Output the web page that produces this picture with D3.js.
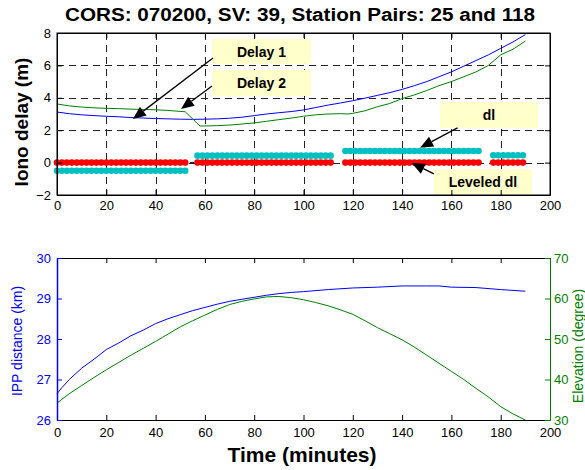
<!DOCTYPE html>
<html>
<head>
<meta charset="utf-8">
<script src="https://cdn.jsdelivr.net/npm/d3@7"></script>
<style>
  body { margin: 0; background: #fff; }
  text { font-family: "Liberation Sans", Arial, Helvetica, sans-serif; }
</style>
</head>
<body>
<svg id="chart" width="585" height="470"></svg>
<script>
// tick values
const xTicks = [0, 20, 40, 60, 80, 100, 120, 140, 160, 180, 200];
const delayTicks = [-2, 0, 2, 4, 6, 8];
const ippTicks = [26, 27, 28, 29, 30];
const elevTicks = [30, 40, 50, 60, 70];

// top panel: iono delays (time in minutes, metres)
const delay1 = [[0,3.12],[5,3.02],[10,2.95],[15,2.9],[20,2.86],[25,2.83],[30,2.78],[35,2.75],[40,2.72],[45,2.7],
  [50,2.68],[55,2.67],[60,2.68],[65,2.7],[70,2.74],[75,2.8],[80,2.9],[85,3.0],[90,3.08],[95,3.15],[100,3.25],
  [105,3.4],[110,3.55],[115,3.68],[120,3.82],[125,3.98],[130,4.15],[135,4.32],[140,4.52],[145,4.75],[150,5.0],
  [155,5.3],[160,5.6],[165,5.95],[170,6.3],[175,6.65],[180,7.05],[185,7.45],[190,7.9]];
const delay2 = [[0,3.62],[5,3.5],[10,3.43],[15,3.38],[20,3.35],[25,3.33],[30,3.3],[35,3.28],[40,3.26],[45,3.22],
  [50,3.16],[52,3.14],[58,2.26],[60,2.26],[65,2.28],[70,2.32],[75,2.38],[80,2.45],[85,2.55],[90,2.65],[95,2.75],
  [100,2.86],[105,2.95],[110,3.0],[115,3.02],[118,3.0],[120,3.04],[125,3.2],[130,3.45],[135,3.65],[140,3.95],
  [145,4.18],[150,4.45],[155,4.75],[160,5.0],[165,5.3],[170,5.6],[175,6.0],[180,6.65],[185,7.0],[190,7.5]];

// dl segments: [start, end, level]; sampled every 2 minutes
const dlSegments = [[0,52,-0.5],[57,112,0.43],[117,172,0.72],[177,190,0.45]];
const leveledSegments = [[0,52,0],[57,112,0],[117,172,0],[177,190,0]];
const leveledBumps = [[74,0.12],[76,0.12]];
const sampleStep = 2;

// bottom panel
const ippDistance = [[0,26.65],[2,26.8],[5,27.0],[10,27.28],[15,27.5],[20,27.74],[25,27.9],[30,28.08],[35,28.22],
  [40,28.38],[45,28.5],[50,28.6],[55,28.7],[60,28.78],[65,28.86],[70,28.93],[75,28.98],[80,29.03],[85,29.08],
  [90,29.12],[95,29.15],[100,29.17],[110,29.22],[120,29.26],[130,29.28],[140,29.31],[150,29.31],[155,29.31],
  [160,29.28],[170,29.27],[180,29.22],[190,29.18]];
const elevation = [[0,34.2],[5,36.5],[10,38.5],[15,40.5],[20,42.4],[25,44.2],[30,46],[35,47.7],[40,49.4],[45,51.2],
  [50,53],[55,54.5],[60,55.9],[65,57.3],[70,58.5],[75,59.3],[80,59.9],[85,60.4],[90,60.5],[95,60.2],[100,59.7],
  [105,59.0],[110,58.2],[115,57.2],[120,56.1],[125,54.5],[130,52.8],[135,51.3],[140,49.8],[145,48],[150,46],
  [155,44],[160,42],[165,40],[170,37.8],[175,35.7],[180,33.3],[185,31.5],[190,30]];

// annotations in data coords: box [x0,x1,y0,y1], arrow from -> to
const notes = [
  { label: "Delay 1", box: [62.9, 103, 6.09, 7.63], from: [63.3, 6.46], to: [30.8, 2.69] },
  { label: "Delay 2", box: [62.9, 103, 4.11, 5.72], from: [62.9, 4.73], to: [50.3, 3.31] },
  { label: "dl", box: [155.4, 195.1, 2.14, 3.74], from: [162.5, 2.14], to: [147.3, 0.92] },
  { label: "Leveled dl", box: [152.9, 192.7, -1.94, -0.4], from: [152.9, -0.7], to: [143.9, -0.02] }
];

const svg = d3.select("#chart");
svg.append("rect").attr("width", 585).attr("height", 470).attr("fill", "#fff");

const left = 57, right = 550;
const x = d3.scaleLinear().domain([0, 200]).range([left, right]);
const yTop = d3.scaleLinear().domain([-2, 8]).range([195, 33]);
const yIpp = d3.scaleLinear().domain([26, 30]).range([420, 258]);
const yElev = d3.scaleLinear().domain([30, 70]).range([420, 258]);

const blue = "#0000ff", green = "#008000", cyan = "#00c0c0", red = "#ff0000";

function sample(segs) {
  const pts = [];
  segs.forEach(s => d3.range(s[0], s[1] + 0.01, sampleStep).forEach(t => pts.push([t, s[2]])));
  return pts;
}

// ---------- top panel ----------
const topG = svg.append("g");

// grid
topG.append("g").selectAll("line").data(xTicks.slice(1, -1)).join("line")
  .attr("x1", d => Math.round(x(d)) + 0.5).attr("x2", d => Math.round(x(d)) + 0.5)
  .attr("y1", 33).attr("y2", 195)
  .attr("stroke", "#222").attr("stroke-dasharray", "7,5");
topG.append("g").selectAll("line").data(delayTicks.slice(1, -1)).join("line")
  .attr("y1", d => Math.round(yTop(d)) + 0.5).attr("y2", d => Math.round(yTop(d)) + 0.5)
  .attr("x1", left).attr("x2", right)
  .attr("stroke", "#222").attr("stroke-dasharray", "7,5");

// annotation boxes
notes.forEach(n => {
  topG.append("rect")
    .attr("x", x(n.box[0])).attr("width", x(n.box[1]) - x(n.box[0]))
    .attr("y", yTop(n.box[3])).attr("height", yTop(n.box[2]) - yTop(n.box[3]))
    .attr("fill", "#ffffcc");
  topG.append("text")
    .attr("x", (x(n.box[0]) + x(n.box[1])) / 2)
    .attr("y", (yTop(n.box[2]) + yTop(n.box[3])) / 2)
    .attr("dy", "0.36em")
    .attr("text-anchor", "middle")
    .attr("font-size", 14).attr("font-weight", "bold")
    .text(n.label);
});

// lines
const lineTop = d3.line().x(d => x(d[0])).y(d => yTop(d[1]));
topG.append("path").datum(delay1).attr("d", lineTop).attr("fill", "none").attr("stroke", blue).attr("stroke-width", 1);
topG.append("path").datum(delay2).attr("d", lineTop).attr("fill", "none").attr("stroke", green).attr("stroke-width", 1);

// small gap marker
topG.append("line").attr("x1", x(54)).attr("x2", x(55.6)).attr("y1", yTop(0)).attr("y2", yTop(0))
  .attr("stroke", "#000");

// dots
topG.append("g").selectAll("circle").data(sample(dlSegments)).join("circle")
  .attr("cx", d => x(d[0])).attr("cy", d => yTop(d[1])).attr("r", 3.3).attr("fill", cyan);
const bumps = new Map(leveledBumps);
const leveled = sample(leveledSegments).map(d => [d[0], bumps.has(d[0]) ? bumps.get(d[0]) : d[1]]);
topG.append("g").selectAll("circle").data(leveled).join("circle")
  .attr("cx", d => x(d[0])).attr("cy", d => yTop(d[1])).attr("r", 3.3).attr("fill", red);

// arrows
notes.forEach(n => {
  const x1 = x(n.from[0]), y1 = yTop(n.from[1]), x2 = x(n.to[0]), y2 = yTop(n.to[1]);
  const len = Math.hypot(x2 - x1, y2 - y1), ux = (x2 - x1) / len, uy = (y2 - y1) / len;
  const hl = 13, hw = 5.5;
  const bx = x2 - ux * hl, by = y2 - uy * hl;
  topG.append("line").attr("x1", x1).attr("y1", y1).attr("x2", bx).attr("y2", by)
    .attr("stroke", "#000").attr("stroke-width", 1.3);
  topG.append("path")
    .attr("d", `M${x2},${y2}L${bx - uy * hw},${by + ux * hw}L${bx + uy * hw},${by - ux * hw}Z`)
    .attr("fill", "#000");
});

// axes
topG.append("g").attr("transform", "translate(0,195)")
  .call(d3.axisBottom(x).tickValues(xTicks).tickSizeInner(-5).tickSizeOuter(0).tickPadding(6));
topG.append("g").attr("transform", "translate(0,33)")
  .call(d3.axisTop(x).tickValues(xTicks).tickSizeInner(-5).tickSizeOuter(0).tickFormat(""));
topG.append("g").attr("transform", `translate(${left},0)`)
  .call(d3.axisLeft(yTop).tickValues(delayTicks).tickSizeInner(-5).tickSizeOuter(0).tickPadding(6));
topG.append("g").attr("transform", `translate(${right},0)`)
  .call(d3.axisRight(yTop).tickValues(delayTicks).tickSizeInner(-5).tickSizeOuter(0).tickFormat(""));
topG.append("rect").attr("x", left).attr("y", 33).attr("width", right - left).attr("height", 162)
  .attr("fill", "none").attr("stroke", "#000");

svg.append("text").attr("x", 300).attr("y", 21).attr("text-anchor", "middle")
  .attr("font-size", 18).attr("font-weight", "bold")
  .attr("textLength", 470).attr("lengthAdjust", "spacingAndGlyphs")
  .text("CORS: 070200, SV: 39, Station Pairs: 25 and 118");
svg.append("text").attr("transform", "translate(28,122) rotate(-90)").attr("text-anchor", "middle")
  .attr("font-size", 19).attr("font-weight", "bold").text("Iono delay (m)");

// ---------- bottom panel ----------
const botG = svg.append("g");
botG.append("path").datum(ippDistance)
  .attr("d", d3.line().x(d => x(d[0])).y(d => yIpp(d[1])))
  .attr("fill", "none").attr("stroke", blue);
botG.append("path").datum(elevation)
  .attr("d", d3.line().x(d => x(d[0])).y(d => yElev(d[1])))
  .attr("fill", "none").attr("stroke", green);

botG.append("g").attr("transform", "translate(0,420)")
  .call(d3.axisBottom(x).tickValues(xTicks).tickSizeInner(-5).tickSizeOuter(0).tickPadding(8));
botG.append("g").attr("transform", "translate(0,258)")
  .call(d3.axisTop(x).tickValues(xTicks).tickSizeInner(-5).tickSizeOuter(0).tickFormat(""));
const ippAxis = botG.append("g").attr("transform", `translate(${left},0)`)
  .call(d3.axisLeft(yIpp).tickValues(ippTicks).tickFormat(d3.format("d"))
    .tickSizeInner(-5).tickSizeOuter(0).tickPadding(6));
const elevAxis = botG.append("g").attr("transform", `translate(${right},0)`)
  .call(d3.axisRight(yElev).tickValues(elevTicks).tickFormat(d3.format("d"))
    .tickSizeInner(-5).tickSizeOuter(0).tickPadding(4));
ippAxis.selectAll("line,path").attr("stroke", blue);
ippAxis.select(".domain").attr("stroke-width", 1.5);
ippAxis.selectAll("text").attr("fill", blue);
elevAxis.selectAll("line,path").attr("stroke", green);
elevAxis.selectAll("text").attr("fill", green);

svg.selectAll(".tick text").attr("font-size", 13).attr("font-family", "'Liberation Sans', Arial, sans-serif");

svg.append("text").attr("transform", "translate(22,341) rotate(-90)").attr("text-anchor", "middle")
  .attr("font-size", 14).attr("fill", blue).text("IPP distance (km)");
svg.append("text").attr("transform", "translate(583,346) rotate(-90)").attr("text-anchor", "middle")
  .attr("font-size", 14).attr("fill", green).text("Elevation (degree)");
svg.append("text").attr("x", 302).attr("y", 462).attr("text-anchor", "middle")
  .attr("font-size", 21).attr("font-weight", "bold").text("Time (minutes)");
</script>
</body>
</html>
